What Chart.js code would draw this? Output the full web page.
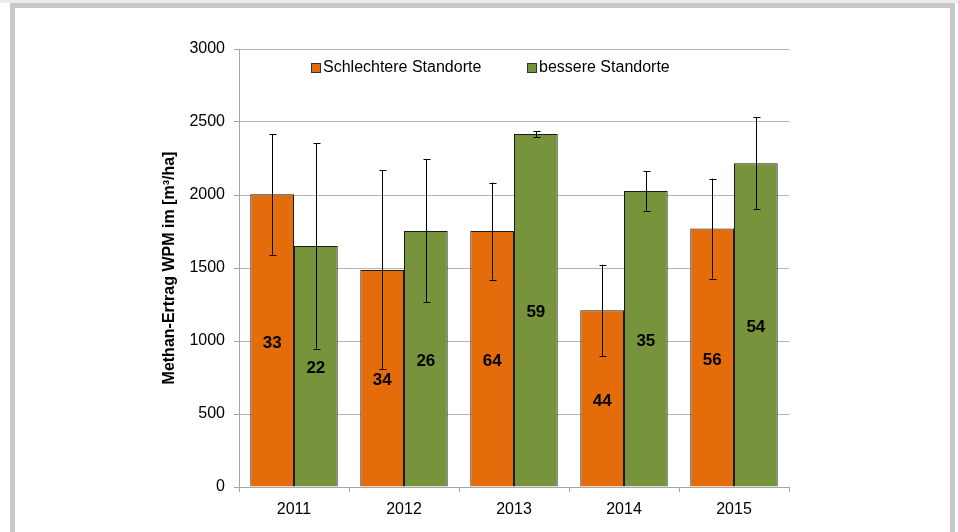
<!DOCTYPE html>
<html>
<head>
<meta charset="utf-8">
<script src="https://cdn.jsdelivr.net/npm/chart.js@4.4.1/dist/chart.umd.min.js"></script>
<style>
  html, body { margin: 0; padding: 0; background: #ffffff; width: 958px; height: 532px; overflow: hidden; }
  #strip { position: absolute; left: 0; top: 0; width: 958px; height: 3px; background: #ececec; }
  #frame { position: absolute; left: 10px; top: 3px; width: 935px; height: 540px;
           border: 5px solid #c8c8c8; border-bottom: none; background: #ffffff; }
  #c { position: absolute; left: 0; top: 0; }
</style>
</head>
<body>
<div id="strip"></div>
<div id="frame"></div>
<canvas id="c" width="958" height="532"></canvas>
<script>
// ---- data ----
const categories = ['2011', '2012', '2013', '2014', '2015'];
const seriesNames = ['Schlechtere Standorte', 'bessere Standorte'];
const schlechtereValues = [2005, 1487, 1753, 1210, 1770];
const schlechtereErrors = [413, 682, 332, 313, 342];
const schlechtereCounts = [33, 34, 64, 44, 56];
const bessereValues = [1651, 1754, 2417, 2027, 2218];
const bessereErrors = [703, 490, 21, 135, 314];
const bessereCounts = [22, 26, 59, 35, 54];
const yTicks = [0, 500, 1000, 1500, 2000, 2500, 3000];
const yTitle = 'Methan-Ertrag WPM im [m³/ha]';

const ORANGE = '#E46C0A';
const GREEN = '#77933C';
const FONT = '"Liberation Sans", Arial, sans-serif';

// error bars drawn through the y scale
const errorBarPlugin = {
  id: 'errorBars',
  afterDatasetsDraw(chart) {
    const ctx = chart.ctx;
    const y = chart.scales.y;
    ctx.save();
    ctx.strokeStyle = '#000000';
    ctx.lineWidth = 1;
    chart.data.datasets.forEach((ds, di) => {
      const meta = chart.getDatasetMeta(di);
      meta.data.forEach((bar, i) => {
        const v = ds.data[i];
        const e = ds.errors[i];
        const yTop = y.getPixelForValue(v + e);
        const yBot = y.getPixelForValue(v - e);
        const x = Math.round(bar.x) + 0.5;
        const cap = 3;
        ctx.beginPath();
        ctx.moveTo(x, yTop); ctx.lineTo(x, yBot);
        ctx.moveTo(x - cap, Math.round(yTop) + 0.5); ctx.lineTo(x + cap + 1, Math.round(yTop) + 0.5);
        ctx.moveTo(x - cap, Math.round(yBot) + 0.5); ctx.lineTo(x + cap + 1, Math.round(yBot) + 0.5);
        ctx.stroke();
      });
    });
    ctx.restore();
  }
};

// count labels centred in each bar
const countLabelPlugin = {
  id: 'countLabels',
  afterDatasetsDraw(chart) {
    const ctx = chart.ctx;
    ctx.save();
    ctx.font = 'bold 17px ' + FONT;
    ctx.fillStyle = '#000000';
    ctx.textAlign = 'center';
    ctx.textBaseline = 'middle';
    chart.data.datasets.forEach((ds, di) => {
      const meta = chart.getDatasetMeta(di);
      meta.data.forEach((bar, i) => {
        const cy = (bar.y + bar.base) / 2;
        ctx.fillText(String(ds.counts[i]), bar.x, cy + 2.5);
      });
    });
    ctx.restore();
  }
};

// legend inside the plot area
const innerLegendPlugin = {
  id: 'innerLegend',
  afterDraw(chart) {
    const ctx = chart.ctx;
    const a = chart.chartArea;
    const cy = a.top + 18.5;
    const starts = [a.left + 72, a.left + 288];
    ctx.save();
    ctx.font = '16px ' + FONT;
    ctx.textBaseline = 'middle';
    ctx.textAlign = 'left';
    chart.data.datasets.forEach((ds, di) => {
      const x = starts[di];
      ctx.fillStyle = ds.backgroundColor;
      ctx.fillRect(x, cy - 4.5, 9, 9);
      ctx.strokeStyle = '#333333';
      ctx.lineWidth = 1;
      ctx.strokeRect(x + 0.5, cy - 4, 9, 9);
      ctx.fillStyle = '#000000';
      ctx.fillText(ds.label, x + 12, cy);
    });
    ctx.restore();
  }
};

new Chart(document.getElementById('c'), {
  type: 'bar',
  data: {
    labels: categories,
    datasets: [
      { label: seriesNames[0], data: schlechtereValues, errors: schlechtereErrors, counts: schlechtereCounts,
        backgroundColor: ORANGE, borderColor: '#1a1a1a', borderWidth: 1, borderSkipped: 'start' },
      { label: seriesNames[1], data: bessereValues, errors: bessereErrors, counts: bessereCounts,
        backgroundColor: GREEN, borderColor: '#1a1a1a', borderWidth: 1, borderSkipped: 'start' }
    ]
  },
  options: {
    responsive: false,
    animation: false,
    devicePixelRatio: 1,
    layout: { padding: { left: 150, right: 169, top: 49, bottom: 10 } },
    datasets: { bar: { barPercentage: 1.0, categoryPercentage: 0.795 } },
    plugins: {
      legend: { display: false },
      tooltip: { enabled: false }
    },
    scales: {
      x: {
        grid: { drawOnChartArea: false, drawTicks: true, tickLength: 5, color: '#a6a6a6', offset: true },
        border: { display: true, color: '#a6a6a6', width: 1 },
        ticks: { color: '#000000', font: { family: FONT, size: 16 }, padding: 8 },
        afterFit(s) { s.height = 35; }
      },
      y: {
        min: 0, max: 3000,
        afterBuildTicks(s) { s.ticks = yTicks.map(v => ({ value: v })); },
        grid: { color: '#b4b4b4', lineWidth: 1, drawTicks: true, tickLength: 5, tickColor: '#a6a6a6' },
        border: { display: true, color: '#a6a6a6', width: 1 },
        ticks: { color: '#000000', font: { family: FONT, size: 16 }, padding: 9,
                 callback: (v) => String(v) },
        title: { display: true, text: yTitle, color: '#000000',
                 font: { family: FONT, size: 16, weight: 'bold' }, padding: { top: 10, bottom: 0 } },
        afterFit(s) { s.width = 89; }
      }
    }
  },
  plugins: [errorBarPlugin, countLabelPlugin, innerLegendPlugin]
});
</script>
</body>
</html>
